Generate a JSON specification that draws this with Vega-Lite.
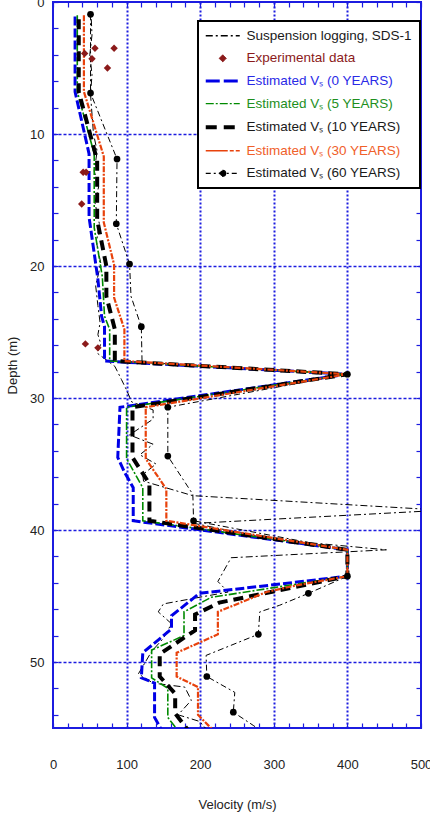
{
  "$schema": "https://vega.github.io/schema/vega-lite/v6.json",
  "width": 368,
  "height": 726,
  "autosize": {"type": "none"},
  "padding": {"left": 53, "top": 2, "right": 9, "bottom": 89},
  "config": {
    "font": "Liberation Sans",
    "view": {"stroke": "#1c1ce0", "strokeWidth": 2},
    "axis": {"labelFontSize": 13, "titleFontSize": 13, "titleFontWeight": "normal", "labelColor": "#222", "titleColor": "#222", "labelFont": "Liberation Sans", "titleFont": "Liberation Sans"}
  },
  "datasets": {
    "profiles": [
      {"series": "Suspension logging, SDS-1", "velocity": 52, "depth": 1.3},
      {"series": "Suspension logging, SDS-1", "velocity": 53, "depth": 2.5},
      {"series": "Suspension logging, SDS-1", "velocity": 50, "depth": 4.0},
      {"series": "Suspension logging, SDS-1", "velocity": 53, "depth": 5.5},
      {"series": "Suspension logging, SDS-1", "velocity": 51, "depth": 7.0},
      {"series": "Suspension logging, SDS-1", "velocity": 53, "depth": 8.5},
      {"series": "Suspension logging, SDS-1", "velocity": 55, "depth": 10.0},
      {"series": "Suspension logging, SDS-1", "velocity": 60, "depth": 11.3},
      {"series": "Suspension logging, SDS-1", "velocity": 56, "depth": 12.8},
      {"series": "Suspension logging, SDS-1", "velocity": 62, "depth": 14.0},
      {"series": "Suspension logging, SDS-1", "velocity": 57, "depth": 15.2},
      {"series": "Suspension logging, SDS-1", "velocity": 63, "depth": 16.8},
      {"series": "Suspension logging, SDS-1", "velocity": 59, "depth": 18.2},
      {"series": "Suspension logging, SDS-1", "velocity": 65, "depth": 19.8},
      {"series": "Suspension logging, SDS-1", "velocity": 58, "depth": 21.5},
      {"series": "Suspension logging, SDS-1", "velocity": 61, "depth": 23.0},
      {"series": "Suspension logging, SDS-1", "velocity": 64, "depth": 24.3},
      {"series": "Suspension logging, SDS-1", "velocity": 61, "depth": 25.2},
      {"series": "Suspension logging, SDS-1", "velocity": 65, "depth": 25.9},
      {"series": "Suspension logging, SDS-1", "velocity": 60, "depth": 26.6},
      {"series": "Suspension logging, SDS-1", "velocity": 84, "depth": 27.6},
      {"series": "Suspension logging, SDS-1", "velocity": 93, "depth": 28.6},
      {"series": "Suspension logging, SDS-1", "velocity": 100, "depth": 29.4},
      {"series": "Suspension logging, SDS-1", "velocity": 107, "depth": 30.3},
      {"series": "Suspension logging, SDS-1", "velocity": 136, "depth": 30.9},
      {"series": "Suspension logging, SDS-1", "velocity": 136, "depth": 31.6},
      {"series": "Suspension logging, SDS-1", "velocity": 104, "depth": 32.8},
      {"series": "Suspension logging, SDS-1", "velocity": 136, "depth": 33.5},
      {"series": "Suspension logging, SDS-1", "velocity": 118, "depth": 34.3},
      {"series": "Suspension logging, SDS-1", "velocity": 140, "depth": 35.0},
      {"series": "Suspension logging, SDS-1", "velocity": 122, "depth": 35.8},
      {"series": "Suspension logging, SDS-1", "velocity": 123, "depth": 36.3},
      {"series": "Suspension logging, SDS-1", "velocity": 190, "depth": 37.4},
      {"series": "Suspension logging, SDS-1", "velocity": 530, "depth": 38.5},
      {"series": "Suspension logging, SDS-1", "velocity": 192, "depth": 39.5},
      {"series": "Suspension logging, SDS-1", "velocity": 297, "depth": 40.7},
      {"series": "Suspension logging, SDS-1", "velocity": 453, "depth": 41.5},
      {"series": "Suspension logging, SDS-1", "velocity": 242, "depth": 42.1},
      {"series": "Suspension logging, SDS-1", "velocity": 236, "depth": 42.7},
      {"series": "Suspension logging, SDS-1", "velocity": 224, "depth": 43.9},
      {"series": "Suspension logging, SDS-1", "velocity": 238, "depth": 44.7},
      {"series": "Suspension logging, SDS-1", "velocity": 150, "depth": 45.6},
      {"series": "Suspension logging, SDS-1", "velocity": 143, "depth": 46.2},
      {"series": "Suspension logging, SDS-1", "velocity": 161, "depth": 47.1},
      {"series": "Suspension logging, SDS-1", "velocity": 150, "depth": 48.2},
      {"series": "Suspension logging, SDS-1", "velocity": 134, "depth": 49.2},
      {"series": "Suspension logging, SDS-1", "velocity": 116, "depth": 50.9},
      {"series": "Suspension logging, SDS-1", "velocity": 136, "depth": 51.6},
      {"series": "Suspension logging, SDS-1", "velocity": 179, "depth": 51.9},
      {"series": "Suspension logging, SDS-1", "velocity": 188, "depth": 52.9},
      {"series": "Suspension logging, SDS-1", "velocity": 170, "depth": 54.0},
      {"series": "Suspension logging, SDS-1", "velocity": 199, "depth": 54.5},
      {"series": "Suspension logging, SDS-1", "velocity": 215, "depth": 55.5},

      {"series": "Estimated V\u209b (0 YEARS)", "velocity": 30, "depth": 1.1},
      {"series": "Estimated V\u209b (0 YEARS)", "velocity": 30, "depth": 6.8},
      {"series": "Estimated V\u209b (0 YEARS)", "velocity": 49, "depth": 11.5},
      {"series": "Estimated V\u209b (0 YEARS)", "velocity": 49, "depth": 16.3},
      {"series": "Estimated V\u209b (0 YEARS)", "velocity": 61, "depth": 21.0},
      {"series": "Estimated V\u209b (0 YEARS)", "velocity": 66, "depth": 23.8},
      {"series": "Estimated V\u209b (0 YEARS)", "velocity": 70, "depth": 24.6},
      {"series": "Estimated V\u209b (0 YEARS)", "velocity": 70, "depth": 27.2},
      {"series": "Estimated V\u209b (0 YEARS)", "velocity": 400, "depth": 28.2},
      {"series": "Estimated V\u209b (0 YEARS)", "velocity": 91, "depth": 30.7},
      {"series": "Estimated V\u209b (0 YEARS)", "velocity": 88, "depth": 34.5},
      {"series": "Estimated V\u209b (0 YEARS)", "velocity": 97, "depth": 35.6},
      {"series": "Estimated V\u209b (0 YEARS)", "velocity": 109, "depth": 36.8},
      {"series": "Estimated V\u209b (0 YEARS)", "velocity": 109, "depth": 39.3},
      {"series": "Estimated V\u209b (0 YEARS)", "velocity": 400, "depth": 41.5},
      {"series": "Estimated V\u209b (0 YEARS)", "velocity": 400, "depth": 43.5},
      {"series": "Estimated V\u209b (0 YEARS)", "velocity": 199, "depth": 44.8},
      {"series": "Estimated V\u209b (0 YEARS)", "velocity": 161, "depth": 46.5},
      {"series": "Estimated V\u209b (0 YEARS)", "velocity": 161, "depth": 47.5},
      {"series": "Estimated V\u209b (0 YEARS)", "velocity": 122, "depth": 49.3},
      {"series": "Estimated V\u209b (0 YEARS)", "velocity": 120, "depth": 51.2},
      {"series": "Estimated V\u209b (0 YEARS)", "velocity": 138, "depth": 51.6},
      {"series": "Estimated V\u209b (0 YEARS)", "velocity": 138, "depth": 54.2},
      {"series": "Estimated V\u209b (0 YEARS)", "velocity": 148, "depth": 55.2},

      {"series": "Estimated V\u209b (5 YEARS)", "velocity": 33, "depth": 1.0},
      {"series": "Estimated V\u209b (5 YEARS)", "velocity": 33, "depth": 6.8},
      {"series": "Estimated V\u209b (5 YEARS)", "velocity": 56, "depth": 11.5},
      {"series": "Estimated V\u209b (5 YEARS)", "velocity": 56, "depth": 17.1},
      {"series": "Estimated V\u209b (5 YEARS)", "velocity": 67, "depth": 20.8},
      {"series": "Estimated V\u209b (5 YEARS)", "velocity": 70, "depth": 23.8},
      {"series": "Estimated V\u209b (5 YEARS)", "velocity": 77, "depth": 24.8},
      {"series": "Estimated V\u209b (5 YEARS)", "velocity": 77, "depth": 27.2},
      {"series": "Estimated V\u209b (5 YEARS)", "velocity": 400, "depth": 28.2},
      {"series": "Estimated V\u209b (5 YEARS)", "velocity": 100, "depth": 30.7},
      {"series": "Estimated V\u209b (5 YEARS)", "velocity": 100, "depth": 34.6},
      {"series": "Estimated V\u209b (5 YEARS)", "velocity": 122, "depth": 36.8},
      {"series": "Estimated V\u209b (5 YEARS)", "velocity": 122, "depth": 39.3},
      {"series": "Estimated V\u209b (5 YEARS)", "velocity": 400, "depth": 41.5},
      {"series": "Estimated V\u209b (5 YEARS)", "velocity": 400, "depth": 43.5},
      {"series": "Estimated V\u209b (5 YEARS)", "velocity": 215, "depth": 45.1},
      {"series": "Estimated V\u209b (5 YEARS)", "velocity": 178, "depth": 46.2},
      {"series": "Estimated V\u209b (5 YEARS)", "velocity": 178, "depth": 48.0},
      {"series": "Estimated V\u209b (5 YEARS)", "velocity": 134, "depth": 49.1},
      {"series": "Estimated V\u209b (5 YEARS)", "velocity": 134, "depth": 51.2},
      {"series": "Estimated V\u209b (5 YEARS)", "velocity": 156, "depth": 52.0},
      {"series": "Estimated V\u209b (5 YEARS)", "velocity": 156, "depth": 54.2},
      {"series": "Estimated V\u209b (5 YEARS)", "velocity": 170, "depth": 55.2},

      {"series": "Estimated V\u209b (10 YEARS)", "velocity": 35, "depth": 1.3},
      {"series": "Estimated V\u209b (10 YEARS)", "velocity": 35, "depth": 6.8},
      {"series": "Estimated V\u209b (10 YEARS)", "velocity": 60, "depth": 12.0},
      {"series": "Estimated V\u209b (10 YEARS)", "velocity": 60, "depth": 16.5},
      {"series": "Estimated V\u209b (10 YEARS)", "velocity": 72.5, "depth": 20.0},
      {"series": "Estimated V\u209b (10 YEARS)", "velocity": 72.5, "depth": 22.3},
      {"series": "Estimated V\u209b (10 YEARS)", "velocity": 84, "depth": 24.8},
      {"series": "Estimated V\u209b (10 YEARS)", "velocity": 84, "depth": 27.2},
      {"series": "Estimated V\u209b (10 YEARS)", "velocity": 400, "depth": 28.2},
      {"series": "Estimated V\u209b (10 YEARS)", "velocity": 108, "depth": 30.7},
      {"series": "Estimated V\u209b (10 YEARS)", "velocity": 108, "depth": 34.5},
      {"series": "Estimated V\u209b (10 YEARS)", "velocity": 131, "depth": 36.5},
      {"series": "Estimated V\u209b (10 YEARS)", "velocity": 131, "depth": 39.3},
      {"series": "Estimated V\u209b (10 YEARS)", "velocity": 400, "depth": 41.5},
      {"series": "Estimated V\u209b (10 YEARS)", "velocity": 400, "depth": 43.5},
      {"series": "Estimated V\u209b (10 YEARS)", "velocity": 226, "depth": 45.5},
      {"series": "Estimated V\u209b (10 YEARS)", "velocity": 193, "depth": 46.4},
      {"series": "Estimated V\u209b (10 YEARS)", "velocity": 193, "depth": 47.6},
      {"series": "Estimated V\u209b (10 YEARS)", "velocity": 145, "depth": 49.4},
      {"series": "Estimated V\u209b (10 YEARS)", "velocity": 145, "depth": 51.1},
      {"series": "Estimated V\u209b (10 YEARS)", "velocity": 166, "depth": 52.4},
      {"series": "Estimated V\u209b (10 YEARS)", "velocity": 166, "depth": 53.9},
      {"series": "Estimated V\u209b (10 YEARS)", "velocity": 184, "depth": 55.2},

      {"series": "Estimated V\u209b (30 YEARS)", "velocity": 42, "depth": 1.0},
      {"series": "Estimated V\u209b (30 YEARS)", "velocity": 42, "depth": 6.8},
      {"series": "Estimated V\u209b (30 YEARS)", "velocity": 69, "depth": 11.7},
      {"series": "Estimated V\u209b (30 YEARS)", "velocity": 69, "depth": 16.7},
      {"series": "Estimated V\u209b (30 YEARS)", "velocity": 83, "depth": 19.9},
      {"series": "Estimated V\u209b (30 YEARS)", "velocity": 83, "depth": 22.4},
      {"series": "Estimated V\u209b (30 YEARS)", "velocity": 97, "depth": 24.8},
      {"series": "Estimated V\u209b (30 YEARS)", "velocity": 97, "depth": 27.2},
      {"series": "Estimated V\u209b (30 YEARS)", "velocity": 400, "depth": 28.2},
      {"series": "Estimated V\u209b (30 YEARS)", "velocity": 126, "depth": 30.7},
      {"series": "Estimated V\u209b (30 YEARS)", "velocity": 126, "depth": 34.6},
      {"series": "Estimated V\u209b (30 YEARS)", "velocity": 154, "depth": 36.9},
      {"series": "Estimated V\u209b (30 YEARS)", "velocity": 154, "depth": 39.3},
      {"series": "Estimated V\u209b (30 YEARS)", "velocity": 400, "depth": 41.5},
      {"series": "Estimated V\u209b (30 YEARS)", "velocity": 400, "depth": 43.5},
      {"series": "Estimated V\u209b (30 YEARS)", "velocity": 330, "depth": 44.2},
      {"series": "Estimated V\u209b (30 YEARS)", "velocity": 290, "depth": 44.7},
      {"series": "Estimated V\u209b (30 YEARS)", "velocity": 224, "depth": 46.2},
      {"series": "Estimated V\u209b (30 YEARS)", "velocity": 224, "depth": 47.9},
      {"series": "Estimated V\u209b (30 YEARS)", "velocity": 168, "depth": 49.3},
      {"series": "Estimated V\u209b (30 YEARS)", "velocity": 168, "depth": 51.1},
      {"series": "Estimated V\u209b (30 YEARS)", "velocity": 197, "depth": 51.9},
      {"series": "Estimated V\u209b (30 YEARS)", "velocity": 197, "depth": 54.0},
      {"series": "Estimated V\u209b (30 YEARS)", "velocity": 211, "depth": 54.8},
      {"series": "Estimated V\u209b (30 YEARS)", "velocity": 220, "depth": 55.3},

      {"series": "Estimated V\u209b (60 YEARS)", "velocity": 51, "depth": 0.93},
      {"series": "Estimated V\u209b (60 YEARS)", "velocity": 51, "depth": 6.9},
      {"series": "Estimated V\u209b (60 YEARS)", "velocity": 87, "depth": 11.9},
      {"series": "Estimated V\u209b (60 YEARS)", "velocity": 86, "depth": 16.8},
      {"series": "Estimated V\u209b (60 YEARS)", "velocity": 104, "depth": 19.85},
      {"series": "Estimated V\u209b (60 YEARS)", "velocity": 106, "depth": 22.3},
      {"series": "Estimated V\u209b (60 YEARS)", "velocity": 120, "depth": 24.6},
      {"series": "Estimated V\u209b (60 YEARS)", "velocity": 121, "depth": 27.3},
      {"series": "Estimated V\u209b (60 YEARS)", "velocity": 400, "depth": 28.2},
      {"series": "Estimated V\u209b (60 YEARS)", "velocity": 156, "depth": 30.7},
      {"series": "Estimated V\u209b (60 YEARS)", "velocity": 156, "depth": 34.4},
      {"series": "Estimated V\u209b (60 YEARS)", "velocity": 190, "depth": 37.3},
      {"series": "Estimated V\u209b (60 YEARS)", "velocity": 191, "depth": 39.3},
      {"series": "Estimated V\u209b (60 YEARS)", "velocity": 400, "depth": 41.5},
      {"series": "Estimated V\u209b (60 YEARS)", "velocity": 400, "depth": 43.5},
      {"series": "Estimated V\u209b (60 YEARS)", "velocity": 347, "depth": 44.8},
      {"series": "Estimated V\u209b (60 YEARS)", "velocity": 308, "depth": 45.7},
      {"series": "Estimated V\u209b (60 YEARS)", "velocity": 281, "depth": 46.2},
      {"series": "Estimated V\u209b (60 YEARS)", "velocity": 279, "depth": 47.9},
      {"series": "Estimated V\u209b (60 YEARS)", "velocity": 208, "depth": 49.5},
      {"series": "Estimated V\u209b (60 YEARS)", "velocity": 209, "depth": 51.1},
      {"series": "Estimated V\u209b (60 YEARS)", "velocity": 247, "depth": 52.3},
      {"series": "Estimated V\u209b (60 YEARS)", "velocity": 245, "depth": 53.8},
      {"series": "Estimated V\u209b (60 YEARS)", "velocity": 272, "depth": 54.8},
      {"series": "Estimated V\u209b (60 YEARS)", "velocity": 285, "depth": 55.3}
    ],
    "markers60": [
      {"velocity": 51, "depth": 0.93},
      {"velocity": 51, "depth": 6.9},
      {"velocity": 87, "depth": 11.9},
      {"velocity": 86, "depth": 16.8},
      {"velocity": 104, "depth": 19.85},
      {"velocity": 120, "depth": 24.6},
      {"velocity": 400, "depth": 28.2},
      {"velocity": 156, "depth": 30.7},
      {"velocity": 156, "depth": 34.4},
      {"velocity": 191, "depth": 39.3},
      {"velocity": 400, "depth": 43.5},
      {"velocity": 347, "depth": 44.8},
      {"velocity": 279, "depth": 47.9},
      {"velocity": 209, "depth": 51.1},
      {"velocity": 245, "depth": 53.8}
    ],
    "experiments": [
      {"velocity": 57, "depth": 3.5},
      {"velocity": 83, "depth": 3.5},
      {"velocity": 43, "depth": 3.9},
      {"velocity": 53, "depth": 4.3},
      {"velocity": 74, "depth": 5.0},
      {"velocity": 41, "depth": 12.9},
      {"velocity": 45, "depth": 12.9},
      {"velocity": 39, "depth": 15.3},
      {"velocity": 44, "depth": 25.9},
      {"velocity": 61, "depth": 26.2}
    ]
  },
  "resolve": {"axis": {"x": "independent", "y": "independent"}},
  "layer": [
    {
      "data": {"name": "profiles"},
      "transform": [{"filter": {"field": "series", "equal": "Suspension logging, SDS-1"}}],
      "mark": {"type": "line", "strokeWidth": 1, "strokeDash": [7, 3, 2, 3], "clip": true},
      "encoding": {
        "x": {"field": "velocity", "type": "quantitative", "scale": {"domain": [0, 500], "nice": false, "zero": false},
          "axis": {"orient": "bottom", "values": [0,20,40,60,80,100,120,140,160,180,200,220,240,260,280,300,320,340,360,380,400,420,440,460,480,500],
            "labelExpr": "datum.value % 100 === 0 ? datum.label : ''", "labelOverlap": false, "labelFlush": false,
            "tickSize": -5, "tickColor": "#1c1ce0", "tickWidth": 1.2, "domain": false, "grid": false,
            "labelPadding": 35, "title": "Velocity (m/s)", "titlePadding": 27}},
        "y": {"field": "depth", "type": "quantitative", "scale": {"domain": [0, 55], "nice": false, "zero": false, "reverse": true},
          "axis": {"orient": "left", "values": [0,2,4,6,8,10,12,14,16,18,20,22,24,26,28,30,32,34,36,38,40,42,44,46,48,50,52,54],
            "labelExpr": "datum.value % 10 === 0 ? datum.label : ''", "labelOverlap": false, "labelFlush": false,
            "tickSize": -5, "tickColor": "#1c1ce0", "tickWidth": 1.2, "domain": false, "grid": false,
            "labelPadding": 14, "title": "Depth (m)", "titlePadding": 10}},
        "order": {"field": "depth", "type": "quantitative"},
        "color": {"field": "series", "type": "nominal",
          "scale": {"domain": ["Suspension logging, SDS-1", "Experimental data", "Estimated V\u209b (0 YEARS)", "Estimated V\u209b (5 YEARS)", "Estimated V\u209b (10 YEARS)", "Estimated V\u209b (30 YEARS)", "Estimated V\u209b (60 YEARS)"],
            "range": ["#000000", "#8b1a1a", "#0000e6", "#008a00", "#000000", "#e8420c", "#000000"]},
          "legend": {"title": null, "orient": "none", "legendX": 145, "legendY": 19, "direction": "vertical",
            "fillColor": "white", "strokeColor": "black", "padding": 8,
            "symbolSize": 196, "symbolType": "stroke", "symbolStrokeWidth": 1.5, "symbolOpacity": 1, "symbolOffset": 10,
            "rowPadding": 7.6, "labelOffset": 17, "labelFontSize": 13.5, "labelFont": "Liberation Sans", "labelLimit": 300,
            "encode": {
              "legend": {"update": {"strokeWidth": {"value": 2}}},
              "symbols": {"update": {
                "shape": {"signal": "datum.value === 'Experimental data' ? 'diamond' : (datum.value === 'Estimated V\u209b (60 YEARS)' ? 'M-1,0L1,0M0.17,0A0.17,0.17 0 1 1 -0.17,0A0.17,0.17 0 1 1 0.17,0Z' : 'stroke')"},
                "size": {"signal": "datum.value === 'Experimental data' ? 50 : 1156"},
                "strokeDash": {"signal": "datum.value === 'Suspension logging, SDS-1' ? [7,3,2,3] : datum.value === 'Estimated V\u209b (0 YEARS)' ? [14,4] : datum.value === 'Estimated V\u209b (5 YEARS)' ? [8,2,2,2] : datum.value === 'Estimated V\u209b (10 YEARS)' ? [11,7] : datum.value === 'Estimated V\u209b (30 YEARS)' ? [22,2,4,2] : datum.value === 'Estimated V\u209b (60 YEARS)' ? [5,3,2,3] : [1,0]"},
                "strokeWidth": {"signal": "datum.value === 'Estimated V\u209b (0 YEARS)' ? 3 : datum.value === 'Estimated V\u209b (10 YEARS)' ? 4 : datum.value === 'Experimental data' ? 1 : 1.3"},
                "fill": {"signal": "datum.value === 'Experimental data' ? '#8b1a1a' : (datum.value === 'Estimated V\u209b (60 YEARS)' ? '#000000' : 'transparent')"},
                "opacity": {"value": 1}
              }},
              "labels": {"update": {"fill": {"signal": "datum.value === 'Experimental data' ? '#8b1a1a' : datum.value === 'Estimated V\u209b (0 YEARS)' ? '#2a2ae6' : datum.value === 'Estimated V\u209b (5 YEARS)' ? '#1d8f1d' : datum.value === 'Estimated V\u209b (30 YEARS)' ? '#f0602a' : '#1a1a1a'"}}}
            }}
        }
      }
    },
    {
      "data": {"name": "profiles"},
      "transform": [{"filter": {"field": "series", "equal": "Estimated V\u209b (60 YEARS)"}}],
      "mark": {"type": "line", "strokeWidth": 1, "strokeDash": [6, 3, 2, 3], "color": "#000000", "clip": true},
      "encoding": {
        "x": {"field": "velocity", "type": "quantitative", "scale": {"domain": [0, 500], "nice": false, "zero": false},
          "axis": {"orient": "bottom", "values": [100, 200, 300, 400], "labels": false, "ticks": false, "domain": false, "title": null,
            "grid": true, "gridColor": "#1c1ce0", "gridDash": [2, 2], "gridWidth": 2}},
        "y": {"field": "depth", "type": "quantitative", "scale": {"domain": [0, 55], "nice": false, "zero": false, "reverse": true},
          "axis": {"orient": "left", "values": [10, 20, 30, 40, 50], "labels": false, "ticks": false, "domain": false, "title": null,
            "grid": true, "gridColor": "#1c1ce0", "gridDash": [3, 2], "gridWidth": 1.5}},
        "order": {"field": "depth", "type": "quantitative"}
      }
    },
    {
      "data": {"name": "profiles"},
      "transform": [{"filter": {"field": "series", "equal": "Estimated V\u209b (0 YEARS)"}}],
      "mark": {"type": "line", "strokeWidth": 3, "strokeDash": [9, 3], "color": "#0000e6", "clip": true},
      "encoding": {
        "x": {"field": "velocity", "type": "quantitative", "scale": {"domain": [0, 500], "nice": false, "zero": false}, "axis": null},
        "y": {"field": "depth", "type": "quantitative", "scale": {"domain": [0, 55], "nice": false, "zero": false, "reverse": true}, "axis": null},
        "order": {"field": "depth", "type": "quantitative"}
      }
    },
    {
      "data": {"name": "profiles"},
      "transform": [{"filter": {"field": "series", "equal": "Estimated V\u209b (5 YEARS)"}}],
      "mark": {"type": "line", "strokeWidth": 1.6, "strokeDash": [8, 2, 2, 2], "color": "#008a00", "clip": true},
      "encoding": {
        "x": {"field": "velocity", "type": "quantitative", "scale": {"domain": [0, 500], "nice": false, "zero": false}, "axis": null},
        "y": {"field": "depth", "type": "quantitative", "scale": {"domain": [0, 55], "nice": false, "zero": false, "reverse": true}, "axis": null},
        "order": {"field": "depth", "type": "quantitative"}
      }
    },
    {
      "data": {"name": "profiles"},
      "transform": [{"filter": {"field": "series", "equal": "Estimated V\u209b (10 YEARS)"}}],
      "mark": {"type": "line", "strokeWidth": 4, "strokeDash": [10, 6], "color": "#000000", "clip": true},
      "encoding": {
        "x": {"field": "velocity", "type": "quantitative", "scale": {"domain": [0, 500], "nice": false, "zero": false}, "axis": null},
        "y": {"field": "depth", "type": "quantitative", "scale": {"domain": [0, 55], "nice": false, "zero": false, "reverse": true}, "axis": null},
        "order": {"field": "depth", "type": "quantitative"}
      }
    },
    {
      "data": {"name": "profiles"},
      "transform": [{"filter": {"field": "series", "equal": "Estimated V\u209b (30 YEARS)"}}],
      "mark": {"type": "line", "strokeWidth": 2.2, "strokeDash": [6, 1.5, 2, 1.5], "color": "#e8420c", "clip": true},
      "encoding": {
        "x": {"field": "velocity", "type": "quantitative", "scale": {"domain": [0, 500], "nice": false, "zero": false}, "axis": null},
        "y": {"field": "depth", "type": "quantitative", "scale": {"domain": [0, 55], "nice": false, "zero": false, "reverse": true}, "axis": null},
        "order": {"field": "depth", "type": "quantitative"}
      }
    },
    {
      "data": {"name": "markers60"},
      "mark": {"type": "point", "shape": "circle", "filled": true, "size": 45, "color": "#000000", "opacity": 1, "clip": true},
      "encoding": {
        "x": {"field": "velocity", "type": "quantitative", "scale": {"domain": [0, 500], "nice": false, "zero": false}, "axis": null},
        "y": {"field": "depth", "type": "quantitative", "scale": {"domain": [0, 55], "nice": false, "zero": false, "reverse": true}, "axis": null}
      }
    },
    {
      "data": {"name": "experiments"},
      "mark": {"type": "point", "shape": "diamond", "filled": true, "size": 55, "color": "#8b1a1a", "opacity": 1, "clip": true},
      "encoding": {
        "x": {"field": "velocity", "type": "quantitative", "scale": {"domain": [0, 500], "nice": false, "zero": false},
          "axis": {"orient": "top", "values": [0,20,40,60,80,100,120,140,160,180,200,220,240,260,280,300,320,340,360,380,400,420,440,460,480,500],
            "labels": false, "tickSize": -5, "tickColor": "#1c1ce0", "tickWidth": 1.2, "domain": false, "grid": false, "title": null}},
        "y": {"field": "depth", "type": "quantitative", "scale": {"domain": [0, 55], "nice": false, "zero": false, "reverse": true},
          "axis": {"orient": "right", "values": [0,2,4,6,8,10,12,14,16,18,20,22,24,26,28,30,32,34,36,38,40,42,44,46,48,50,52,54],
            "labels": false, "tickSize": -5, "tickColor": "#1c1ce0", "tickWidth": 1.2, "domain": false, "grid": false, "title": null}}
      }
    }
  ]
}
